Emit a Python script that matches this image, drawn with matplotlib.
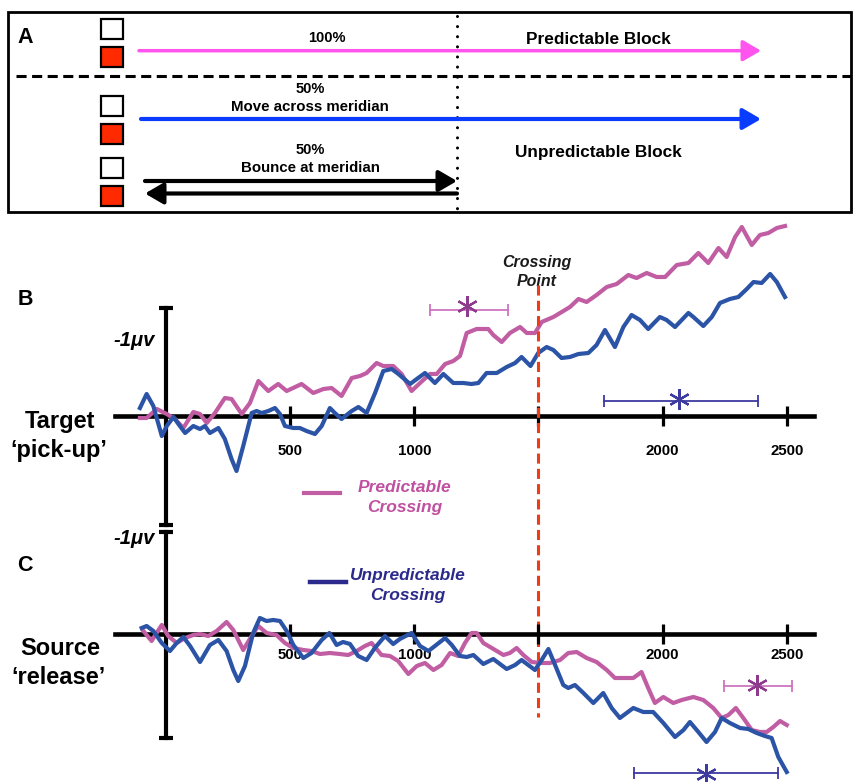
import numpy as np
import matplotlib.pyplot as plt
from matplotlib.patches import Rectangle

plt.rcParams['font.family'] = ['Liberation Sans', 'DejaVu Sans']

W, H = 854, 782

# (time ms, negativity uV, plotted upward)
b_pred = np.array([(-105, -0.02), (-78, -0.02), (-37, 0.07), (3, 0.02), (36, -0.03), (70, -0.12), (110, 0.04),
                   (137, 0.02), (164, -0.07), (197, 0.03), (237, 0.18), (264, 0.17), (305, 0.02), (338, 0.13),
                   (372, 0.35), (412, 0.25), (452, 0.32), (486, 0.25), (546, 0.32), (593, 0.23), (634, 0.27),
                   (667, 0.28), (707, 0.20), (748, 0.38), (781, 0.40), (808, 0.43), (848, 0.53), (875, 0.50),
                   (915, 0.50), (949, 0.42), (989, 0.25), (1023, 0.33), (1063, 0.42), (1090, 0.42), (1124, 0.52),
                   (1157, 0.55), (1184, 0.60), (1211, 0.83), (1251, 0.87), (1298, 0.87), (1318, 0.81), (1352, 0.74),
                   (1385, 0.83), (1426, 0.89), (1453, 0.83), (1486, 0.83), (1513, 0.94), (1560, 0.99), (1587, 1.03),
                   (1627, 1.09), (1661, 1.17), (1694, 1.14), (1734, 1.21), (1775, 1.29), (1815, 1.32), (1862, 1.41),
                   (1895, 1.38), (1936, 1.43), (1976, 1.39), (2010, 1.39), (2057, 1.51), (2104, 1.53), (2144, 1.63),
                   (2184, 1.53), (2225, 1.68), (2258, 1.59), (2292, 1.79), (2319, 1.89), (2359, 1.71), (2392, 1.81),
                   (2426, 1.83), (2460, 1.88), (2493, 1.90)])

b_unpred = np.array([(-105, 0.08), (-78, 0.22), (-51, 0.10), (-17, -0.20), (3, -0.10), (30, -0.01), (50, -0.08),
                     (77, -0.17), (110, -0.10), (137, -0.13), (157, -0.10), (177, -0.17), (211, -0.12), (237, -0.23),
                     (264, -0.43), (284, -0.55), (311, -0.30), (345, 0.03), (365, 0.05), (385, 0.03), (412, 0.05),
                     (439, 0.08), (459, 0.02), (479, -0.10), (512, -0.12), (539, -0.12), (566, -0.15), (600, -0.18),
                     (627, -0.10), (660, 0.08), (680, 0.03), (707, -0.03), (748, 0.05), (775, 0.09), (808, 0.03),
                     (842, 0.23), (875, 0.45), (909, 0.47), (936, 0.42), (983, 0.32), (1010, 0.37), (1043, 0.43),
                     (1083, 0.33), (1117, 0.42), (1157, 0.33), (1197, 0.33), (1230, 0.32), (1258, 0.33), (1291, 0.43),
                     (1332, 0.43), (1372, 0.49), (1406, 0.53), (1432, 0.59), (1468, 0.50), (1499, 0.63), (1533, 0.69),
                     (1560, 0.66), (1593, 0.58), (1627, 0.59), (1661, 0.62), (1701, 0.63), (1734, 0.71), (1768, 0.86),
                     (1808, 0.69), (1842, 0.89), (1875, 1.01), (1909, 0.96), (1942, 0.87), (1989, 0.99), (2016, 0.96),
                     (2050, 0.89), (2104, 1.03), (2124, 0.99), (2164, 0.90), (2198, 0.99), (2231, 1.13), (2271, 1.17),
                     (2305, 1.19), (2339, 1.27), (2366, 1.34), (2399, 1.33), (2433, 1.42), (2460, 1.34), (2493, 1.19)])

c_pred = np.array([(-91, 0.03), (-58, -0.07), (-38, 0.01), (-17, 0.09), (9, -0.02), (43, -0.09), (77, -0.04),
                   (110, -0.01), (137, 0.0), (170, -0.02), (204, 0.03), (244, 0.12), (271, 0.04), (311, -0.16),
                   (345, -0.02), (372, 0.08), (405, 0.01), (445, -0.01), (479, -0.09), (513, -0.14), (553, -0.16),
                   (586, -0.17), (620, -0.20), (660, -0.19), (700, -0.20), (734, -0.21), (768, -0.17), (801, -0.12),
                   (828, -0.09), (868, -0.21), (902, -0.22), (935, -0.27), (976, -0.40), (1010, -0.32), (1043, -0.29),
                   (1077, -0.36), (1110, -0.31), (1144, -0.19), (1177, -0.22), (1204, -0.09), (1231, 0.01),
                   (1251, 0.01), (1278, -0.09), (1312, -0.14), (1359, -0.21), (1385, -0.19), (1412, -0.14),
                   (1439, -0.21), (1473, -0.28), (1513, -0.29), (1546, -0.29), (1587, -0.26), (1620, -0.19),
                   (1654, -0.18), (1694, -0.24), (1734, -0.28), (1775, -0.36), (1808, -0.44), (1842, -0.44),
                   (1882, -0.44), (1915, -0.38), (1942, -0.54), (1969, -0.69), (2003, -0.63), (2043, -0.69),
                   (2077, -0.66), (2124, -0.63), (2164, -0.66), (2204, -0.74), (2238, -0.84), (2265, -0.81),
                   (2295, -0.74), (2325, -0.84), (2359, -0.96), (2392, -0.98), (2419, -0.98), (2446, -0.93),
                   (2473, -0.87), (2500, -0.91)])

c_unpred = np.array([(-98, 0.06), (-78, 0.08), (-51, 0.03), (-17, -0.09), (16, -0.17), (43, -0.09), (70, -0.03),
                     (97, -0.12), (137, -0.28), (177, -0.11), (211, -0.06), (244, -0.17), (271, -0.36), (291, -0.47),
                     (318, -0.32), (351, 0.01), (378, 0.16), (405, 0.13), (432, 0.14), (459, 0.13), (486, 0.03),
                     (513, -0.11), (553, -0.24), (586, -0.19), (627, -0.06), (658, 0.01), (687, -0.11), (713, -0.08),
                     (741, -0.10), (774, -0.22), (808, -0.26), (841, -0.14), (882, -0.02), (915, -0.10), (942, -0.05),
                     (989, 0.01), (1023, -0.12), (1057, -0.17), (1083, -0.12), (1124, -0.04), (1151, -0.11),
                     (1184, -0.22), (1211, -0.23), (1238, -0.21), (1278, -0.30), (1318, -0.25), (1372, -0.35),
                     (1406, -0.31), (1432, -0.26), (1459, -0.31), (1486, -0.36), (1513, -0.26), (1540, -0.15),
                     (1567, -0.31), (1600, -0.51), (1620, -0.54), (1647, -0.51), (1681, -0.59), (1721, -0.69),
                     (1761, -0.59), (1795, -0.74), (1828, -0.84), (1882, -0.74), (1922, -0.78), (1962, -0.78),
                     (2003, -0.89), (2050, -1.03), (2084, -0.96), (2110, -0.88), (2144, -0.98), (2177, -1.08),
                     (2211, -0.98), (2238, -0.84), (2271, -0.89), (2312, -0.94), (2345, -0.95), (2379, -0.99),
                     (2412, -1.02), (2439, -1.04), (2466, -1.23), (2500, -1.38)])

# significant windows (ms)
sig_b_pred = (1063, 1377)
sig_b_unpred = (1764, 2384)
sig_c_pred = (2247, 2522)
sig_c_unpred = (1885, 2466)

ticks = [500, 1000, 1500, 2000, 2500]
tick_labels = ['500', '1000', '', '2000', '2500']
crossing = 1500

PINK = '#c15da3'
BLUE = '#2c54a6'
PINK_SIG = '#cf74bf'
PINK_STAR = '#8e3b8e'
BLUE_SIG = '#3d3aa0'
ORANGE = '#f03c14'

fig = plt.figure(figsize=(W / 100, H / 100), dpi=100)

# overlay in pixel coordinates for panel A and labels
ax0 = fig.add_axes([0, 0, 1, 1])
ax0.set_xlim(0, W)
ax0.set_ylim(H, 0)
ax0.axis('off')

PX_MS = 0.2483
X0 = 166
PX_UV = 100


def data_axes(top, bottom, zero_y):
    ax = fig.add_axes([100 / W, 1 - bottom / H, 730 / W, (bottom - top) / H])
    ax.set_xlim((100 - X0) / PX_MS, (830 - X0) / PX_MS)
    ax.set_ylim((zero_y - bottom) / PX_UV, (zero_y - top) / PX_UV)
    ax.patch.set_visible(False)
    for s in ['top', 'right', 'left']:
        ax.spines[s].set_visible(False)
    ax.spines['bottom'].set_position(('data', 0))
    ax.spines['bottom'].set_bounds(-205, 2610)
    ax.spines['bottom'].set_linewidth(3.3)
    ax.set_yticks([])
    ax.set_xticks(ticks, tick_labels)
    for lbl in ax.get_xticklabels():
        lbl.set_fontweight('bold')
    return ax


# ---------------- panel A ----------------
ax0.add_patch(Rectangle((8, 12), 843, 200, fill=False, lw=2, ec='black'))
ax0.text(25, 43, 'A', fontsize=15.5, fontweight='bold', ha='center', va='baseline')
ax0.plot([16, 851], [76, 76], color='black', lw=2.2, dashes=(3.3, 1.8))
ax0.plot([457, 457], [16, 212], color='black', lw=2.2, dashes=(0.01, 3.3), dash_capstyle='round')

for y0, fc in [(19, 'white'), (47, '#ff2a00'), (96, 'white'), (124, '#ff2a00'), (158, 'white'), (186, '#ff2a00')]:
    ax0.add_patch(Rectangle((101, y0), 22, 20, fc=fc, ec='black', lw=1.6))

def arrow(x0, x1, y, color, lw):
    ax0.annotate('', xy=(x1, y), xytext=(x0, y),
                 arrowprops=dict(arrowstyle='-|>,head_length=0.55,head_width=0.32', color=color, lw=lw,
                                 shrinkA=0, shrinkB=0, mutation_scale=20))

arrow(139, 761, 50.7, '#ff55ee', 2.5)
arrow(141, 761, 119, '#0a3cff', 3)
arrow(145, 457, 181, 'black', 3)
arrow(457, 145, 193.5, 'black', 3)

ax0.text(327, 41.7, '100%', fontsize=10.5, fontweight='bold', ha='center', va='baseline')
ax0.text(598, 44.3, 'Predictable Block', fontsize=12.4, fontweight='bold', ha='center', va='baseline')
ax0.text(310, 93.3, '50%', fontsize=10.5, fontweight='bold', ha='center', va='baseline')
ax0.text(310, 111, 'Move across meridian', fontsize=10.8, fontweight='bold', ha='center', va='baseline')
ax0.text(310, 154, '50%', fontsize=10.5, fontweight='bold', ha='center', va='baseline')
ax0.text(310, 171.7, 'Bounce at meridian', fontsize=10.8, fontweight='bold', ha='center', va='baseline')
ax0.text(598, 156.7, 'Unpredictable Block', fontsize=12.4, fontweight='bold', ha='center', va='baseline')

# ---------------- panel B ----------------
axb = data_axes(230, 520, 416)
axb.tick_params(axis='x', direction='inout', length=14.5, width=2.3, pad=12.8, labelsize=10.8)
axb.plot(b_pred[:, 0], b_pred[:, 1], color=PINK, lw=3, zorder=4, clip_on=False, solid_joinstyle='round')
axb.plot(b_unpred[:, 0], b_unpred[:, 1], color=BLUE, lw=3, zorder=4, clip_on=False, solid_joinstyle='round')
axb.plot([0, 0], [1.08, -1.09], color='black', lw=3, clip_on=False, zorder=3)
axb.plot([0, 0], [1.08, -1.09], ls='none', marker='_', ms=10, mew=3, color='black', clip_on=False)
axb.plot([crossing, crossing], [1.31, -3.01], color=ORANGE, lw=2.2, dashes=(3.3, 1.7), clip_on=False, zorder=5)
axb.plot(sig_b_pred, [1.06, 1.06], color=PINK_SIG, lw=1.3, marker='|', ms=8, mew=1.3)
axb.plot([np.mean(sig_b_pred) - 8], [1.10], marker=(6, 2, 0), ms=15, mew=1.6, color=PINK_STAR)
axb.plot(sig_b_unpred, [0.153, 0.153], color=BLUE_SIG, lw=1.3, marker='|', ms=8, mew=1.3)
axb.plot([np.mean(sig_b_unpred) - 8], [0.17], marker=(6, 2, 0), ms=15, mew=1.6, color=BLUE_SIG)

# ---------------- panel C ----------------
axc = data_axes(520, 782, 634)
axc.tick_params(axis='x', direction='inout', length=14.5, width=2.3, pad=2.7, labelsize=10.8)
axc.plot(c_pred[:, 0], c_pred[:, 1], color=PINK, lw=3, zorder=4, clip_on=False, solid_joinstyle='round')
axc.plot(c_unpred[:, 0], c_unpred[:, 1], color=BLUE, lw=3, zorder=4, clip_on=False, solid_joinstyle='round')
axc.plot([0, 0], [1.02, -1.04], color='black', lw=3, clip_on=False, zorder=3)
axc.plot([0, 0], [1.02, -1.04], ls='none', marker='_', ms=10, mew=3, color='black', clip_on=False)
axc.plot(sig_c_pred, [-0.52, -0.52], color=PINK_SIG, lw=1.3, marker='|', ms=8, mew=1.3)
axc.plot([np.mean(sig_c_pred) - 6], [-0.51], marker=(6, 2, 0), ms=15, mew=1.6, color=PINK_STAR)
axc.plot(sig_c_unpred, [-1.387, -1.387], color=BLUE_SIG, lw=1.3, marker='|', ms=8, mew=1.3, clip_on=False)
axc.plot([np.mean(sig_c_unpred)], [-1.40], marker=(6, 2, 0), ms=15, mew=1.6, color=BLUE_SIG, clip_on=False)

# ---------------- labels ----------------
ax0.text(25, 305, 'B', fontsize=15.5, fontweight='bold', ha='center', va='baseline')
ax0.text(25, 570.7, 'C', fontsize=15.5, fontweight='bold', ha='center', va='baseline')
ax0.text(60, 428, 'Target', fontsize=17, fontweight='bold', ha='center', va='baseline')
ax0.text(59, 456.5, '\u2018pick-up\u2019', fontsize=17, fontweight='bold', ha='center', va='baseline')
ax0.text(60, 655, 'Source', fontsize=17, fontweight='bold', ha='center', va='baseline')
ax0.text(59, 684, '\u2018release\u2019', fontsize=17, fontweight='bold', ha='center', va='baseline')
ax0.text(155, 346, '-1\u03bcv', fontsize=14.5, fontweight='bold', style='italic', ha='right', va='baseline')
ax0.text(155, 544, '-1\u03bcv', fontsize=14.5, fontweight='bold', style='italic', ha='right', va='baseline')
ax0.text(537, 266.7, 'Crossing', fontsize=11.5, fontweight='bold', style='italic', ha='center', va='baseline',
         color='#1a1a1a')
ax0.text(537, 286, 'Point', fontsize=11.5, fontweight='bold', style='italic', ha='center', va='baseline',
         color='#1a1a1a')

ax0.plot([304, 340], [493.3, 493.3], color=PINK, lw=3)
ax0.text(405, 491.7, 'Predictable', fontsize=12.5, fontweight='bold', style='italic', ha='center',
         va='baseline', color='#c050a0')
ax0.text(405, 512, 'Crossing', fontsize=12.5, fontweight='bold', style='italic', ha='center',
         va='baseline', color='#c050a0')
ax0.plot([310, 346], [581.7, 581.7], color='#2b2a8c', lw=3.2)
ax0.text(408, 580, 'Unpredictable', fontsize=12.5, fontweight='bold', style='italic', ha='center',
         va='baseline', color='#2b2a8c')
ax0.text(408, 600, 'Crossing', fontsize=12.5, fontweight='bold', style='italic', ha='center',
         va='baseline', color='#2b2a8c')

fig.savefig('out.png', dpi=100)
